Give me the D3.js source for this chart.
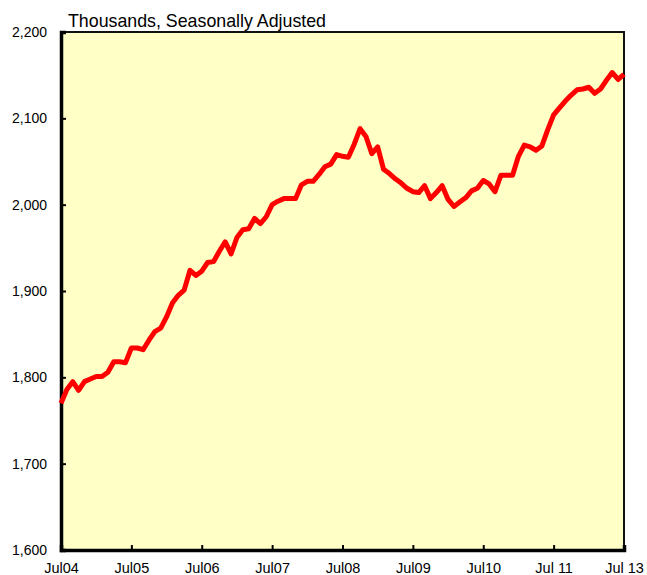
<!DOCTYPE html>
<html>
<head>
<meta charset="utf-8">
<script src="https://d3js.org/d3.v7.min.js"></script>
<style>
  body { margin: 0; background: #fff; }
  text { font-family: Arial, "Liberation Sans", sans-serif; fill: #000; }
</style>
</head>
<body>
<div id="chart"></div>
<script>
//data: monthly values, thousands, seasonally adjusted (Jul04 ... )
var values = [
  1770, 1786, 1795, 1785, 1795, 1798, 1801, 1801, 1806, 1818, 1818, 1817,
  1834, 1834, 1832, 1843, 1853, 1857, 1870, 1886, 1895, 1901, 1924, 1918,
  1923, 1933, 1934, 1946, 1957, 1943, 1962, 1971, 1972, 1984, 1978, 1986,
  2000, 2004, 2007, 2007, 2007, 2023, 2027, 2027, 2035, 2044, 2047, 2058,
  2056, 2055, 2070, 2088, 2079, 2059, 2067, 2041, 2036, 2030, 2025, 2019,
  2015, 2014, 2022, 2007, 2014, 2022, 2006, 1998, 2003, 2008, 2016, 2019,
  2028, 2024, 2015, 2034, 2034, 2034, 2056, 2069, 2067, 2063, 2068, 2087,
  2104, 2112, 2120, 2127, 2133, 2134, 2136, 2129, 2134, 2144, 2153, 2145,
  2151
];
var xLabels = ["Jul04", "Jul05", "Jul06", "Jul07", "Jul08", "Jul09", "Jul10", "Jul 11", "Jul 13"];
var yTicks = [1600, 1700, 1800, 1900, 2000, 2100, 2200];
var title = "Thousands, Seasonally Adjusted";

//set up chart
var svgWidth = 647;
var svgHeight = 575;

var margin = {
  top: 32,
  right: 23,
  bottom: 25,
  left: 61
};

var width = svgWidth - margin.left - margin.right;
var height = svgHeight - margin.top - margin.bottom;

var svg = d3
  .select("#chart")
  .append("svg")
  .attr("width", svgWidth)
  .attr("height", svgHeight);

var chartGroup = svg.append("g")
  .attr("transform", `translate(${margin.left}, ${margin.top})`);

//scales
var xScale = d3.scaleLinear()
  .domain([0, values.length - 1])
  .range([0, width]);

var yScale = d3.scaleLinear()
  .domain([1600, 2200])
  .range([height, 0]);

//label positions, one every 12 months
var labelScale = d3.scalePoint()
  .domain(xLabels)
  .range([0, width]);

//plot background
chartGroup.append("rect")
  .attr("width", width)
  .attr("height", height)
  .attr("fill", "#ffffc6");

//top and right frame (thin)
chartGroup.append("path")
  .attr("d", `M0,0H${width}V${height}`)
  .attr("fill", "none")
  .attr("stroke", "#111")
  .attr("stroke-width", 2);

//y axis
var leftAxis = d3.axisLeft(yScale)
  .tickValues(yTicks)
  .tickSize(-5)
  .tickPadding(14)
  .tickFormat(d3.format(","));

var yAxis = chartGroup.append("g")
  .call(leftAxis);
yAxis.select(".domain").attr("stroke", "#000").attr("stroke-width", 3.5);
yAxis.selectAll(".tick line").attr("stroke", "#000").attr("stroke-width", 2);
yAxis.selectAll("text").style("font-size", "14px").attr("fill", "#000");

//x axis
var bottomAxis = d3.axisBottom(labelScale)
  .tickSize(-5)
  .tickPadding(13);

var xAxis = chartGroup.append("g")
  .attr("transform", `translate(0, ${height})`)
  .call(bottomAxis);
xAxis.select(".domain").attr("stroke", "#000").attr("stroke-width", 3.5);
xAxis.selectAll(".tick line").attr("stroke", "#000").attr("stroke-width", 2);
xAxis.selectAll("text").style("font-size", "14.5px").attr("fill", "#000");

//line
var line = d3.line()
  .x((d, i) => xScale(i))
  .y(d => yScale(d));

chartGroup.append("path")
  .datum(values)
  .attr("d", line)
  .attr("fill", "none")
  .attr("stroke", "#ff0000")
  .attr("stroke-width", 5)
  .attr("stroke-linejoin", "round");

//title
svg.append("text")
  .attr("x", 68)
  .attr("y", 27)
  .style("font-size", "17.8px")
  .text(title);
</script>
</body>
</html>
